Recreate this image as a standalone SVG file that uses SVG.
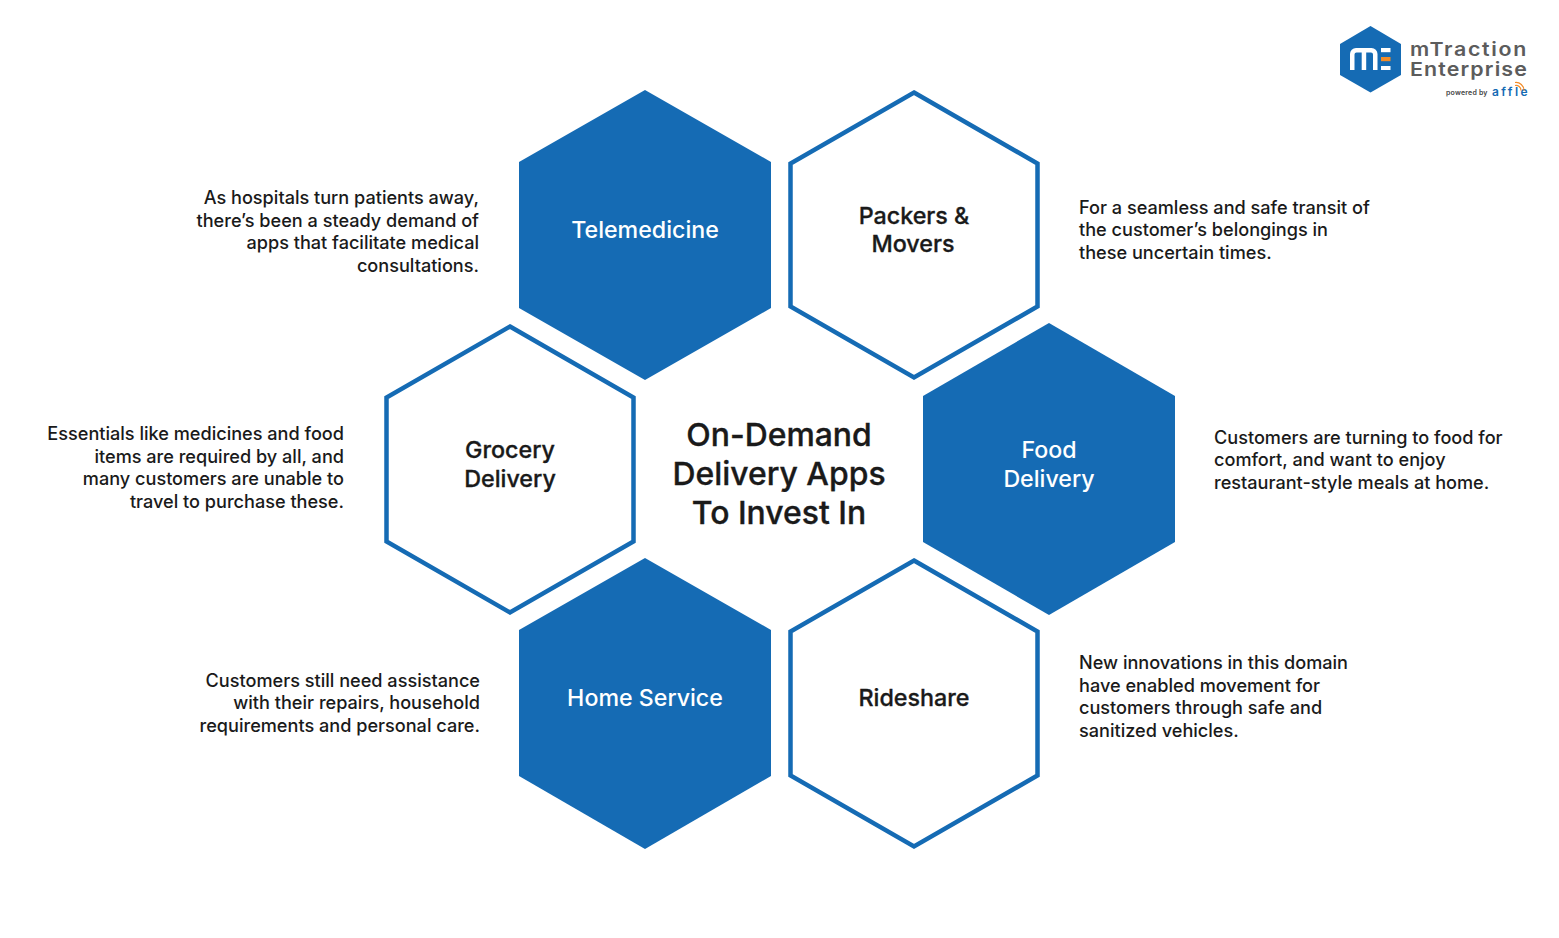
<svg xmlns="http://www.w3.org/2000/svg" width="1559" height="938" viewBox="0 0 1559 938">
  <style>
    text { font-family: "Inter", "Liberation Sans", sans-serif; fill: #1a1a1a; }
    .solid { fill: #156bb4; }
    .ring { fill: #fff; stroke: #156bb4; stroke-width: 4.5; stroke-linejoin: miter; }
    .label { font-size: 23.2px; font-weight: 500; text-anchor: middle; }
    .dark { font-size: 23.3px; font-weight: 500; text-anchor: middle; stroke: #1a1a1a; stroke-width: 0.3px; }
    .light { fill: #fff; }
    .title { font-size: 31.9px; font-weight: 500; text-anchor: middle; stroke: #1a1a1a; stroke-width: 0.35px; }
    .note { font-size: 18.13px; font-weight: 500; }
    .end { text-anchor: end; }
    .brand { font-size: 19px; font-weight: 600; fill: #5c5c5c; }
  </style>
  <rect width="1559" height="938" fill="#fff"/>

  <g id="connectors"/>

  <g id="telemedicine">
    <polygon class="solid" points="645,90 771,162 771,308 645,380 519,308 519,162"/>
    <text class="label light" x="645" y="238">Telemedicine</text>
  </g>
  <g id="packers-movers">
    <polygon class="ring" points="914,92.5 1037.5,163.5 1037.5,306.5 914,377.5 790.500,306.5 790.500,163.500"/>
    <text class="dark" x="914" y="224">Packers &amp;</text>
    <text class="dark" x="913" y="252">Movers</text>
  </g>
  <g id="grocery-delivery">
    <polygon class="ring" points="510,326.500 633.500,397.500 633.500,541.500 510,612.500 386.500,541.500 386.500,397.500"/>
    <text class="dark" x="510" y="458">Grocery</text>
    <text class="dark" x="510" y="487">Delivery</text>
  </g>
  <g id="food-delivery">
    <polygon class="solid" points="1049,323 1175,396 1175,542 1049,615 923,542 923,396"/>
    <text class="label light" x="1049" y="458">Food</text>
    <text class="label light" x="1049" y="487">Delivery</text>
  </g>
  <g id="home-service">
    <polygon class="solid" points="645,558 771,630 771,776 645,849 519,776 519,630"/>
    <text class="label light" x="645" y="706">Home Service</text>
  </g>
  <g id="rideshare">
    <polygon class="ring" points="914,560.500 1037.5,631.500 1037.5,775.500 914,846.500 790.500,775.500 790.500,631.500"/>
    <text class="dark" x="914" y="706">Rideshare</text>
  </g>

  <g id="center-title">
    <text class="title" x="779" y="446">On-Demand</text>
    <text class="title" x="779" y="485">Delivery Apps</text>
    <text class="title" x="779" y="523.500">To Invest In</text>
  </g>

  <g id="notes-left">
    <text class="note end" x="479" y="204">As hospitals turn patients away,</text>
    <text class="note end" x="479" y="227">there’s been a steady demand of</text>
    <text class="note end" x="479" y="249">apps that facilitate medical</text>
    <text class="note end" x="479" y="272">consultations.</text>
    <text class="note end" x="344" y="440">Essentials like medicines and food</text>
    <text class="note end" x="344" y="463">items are required by all, and</text>
    <text class="note end" x="344" y="485">many customers are unable to</text>
    <text class="note end" x="344" y="508">travel to purchase these.</text>
    <text class="note end" x="480" y="687">Customers still need assistance</text>
    <text class="note end" x="480" y="709">with their repairs, household</text>
    <text class="note end" x="480" y="732">requirements and personal care.</text>
  </g>
  <g id="notes-right">
    <text class="note" x="1079" y="214">For a seamless and safe transit of</text>
    <text class="note" x="1079" y="236">the customer’s belongings in</text>
    <text class="note" x="1079" y="259">these uncertain times.</text>
    <text class="note" x="1214" y="444">Customers are turning to food for</text>
    <text class="note" x="1214" y="466">comfort, and want to enjoy</text>
    <text class="note" x="1214" y="489">restaurant-style meals at home.</text>
    <text class="note" x="1079" y="669">New innovations in this domain</text>
    <text class="note" x="1079" y="692">have enabled movement for</text>
    <text class="note" x="1079" y="714">customers through safe and</text>
    <text class="note" x="1079" y="737">sanitized vehicles.</text>
  </g>

  <g id="brand-mark">
    <polygon class="solid" points="1370.500,26 1401,44 1401,75 1370.500,92.500 1340,75 1340,44"/>
    <path d="M1350 70V54a6 6 0 0 1 6-6H1371.500a6 6 0 0 1 6 6V70H1373V54.500a2 2 0 0 0-2-2H1366.200V70H1361.700V52.500H1356.500a2 2 0 0 0-2 2V70z" fill="#fff"/>
    <rect x="1381" y="48" width="9.500" height="4.200" fill="#fff"/>
    <rect x="1381" y="57" width="9.500" height="4.200" fill="#f28c28"/>
    <rect x="1381" y="66" width="9.500" height="4" fill="#fff"/>
    <text class="brand" x="1410" y="56" textLength="118" lengthAdjust="spacingAndGlyphs" letter-spacing="1.500">mTraction</text>
    <text class="brand" x="1410" y="76" textLength="118" lengthAdjust="spacingAndGlyphs" letter-spacing="1">Enterprise</text>
    <text x="1446" y="95" font-size="7" font-weight="600" letter-spacing="0.200" style="fill:#444">powered by</text>
    <text x="1492" y="96" font-size="12" font-weight="600" letter-spacing="2.400" style="fill:#156bb4">affle</text>
    <path d="M1515 85.500a5 5 0 0 1 6 5M1515 82.500a8 8 0 0 1 9 8" fill="none" stroke="#f28c28" stroke-width="1.200"/>
  </g>
</svg>
